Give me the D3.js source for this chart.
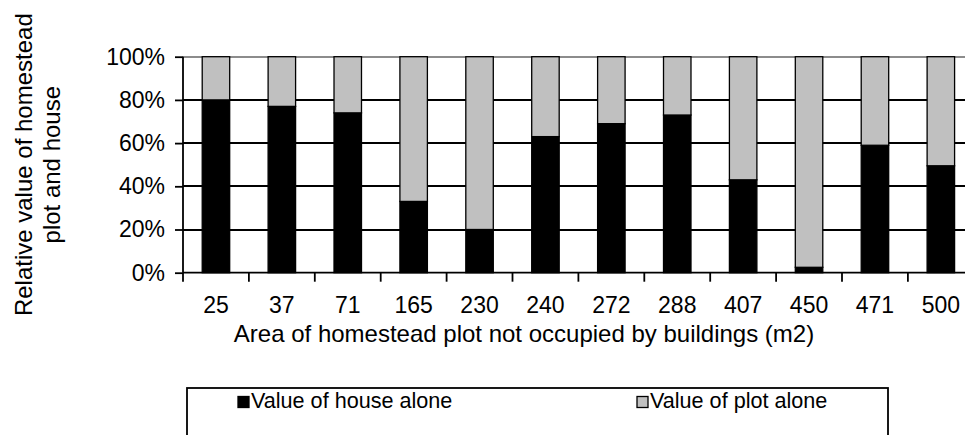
<!DOCTYPE html>
<html>
<head>
<meta charset="utf-8">
<script src="https://cdn.jsdelivr.net/npm/d3@7"></script>
<style>
	body { margin: 0; background: #fff; }
	text { font-family: Arial, "Liberation Sans", sans-serif; fill: #000; }
</style>
</head>
<body>
<div id="chart"></div>
<script>
// data
var areas = ["25", "37", "71", "165", "230", "240", "272", "288", "407", "450", "471", "500"];
var houseShare = [0.80, 0.77, 0.74, 0.33, 0.20, 0.63, 0.69, 0.73, 0.43, 0.025, 0.59, 0.495];
var yTicks = [0, 0.2, 0.4, 0.6, 0.8, 1];
var seriesNames = ["Value of house alone", "Value of plot alone"];
var seriesColors = ["#000000", "#c0c0c0"];

var w = 965,
	h = 435,
	svg = d3
		.select("#chart")
		.append("svg")
		.attr("width", w)
		.attr("height", h);

var plot = { left: 183, top: 56.7, bottom: 272.7, step: 65.9 };

var x = d3.scaleBand()
	.domain(areas)
	.range([plot.left, plot.left + plot.step * areas.length])
	.paddingInner(0.583)
	.paddingOuter(0.2915);

var y = d3.scaleLinear()
	.domain([0, 1])
	.range([plot.bottom, plot.top]);

var gap = x.step() * x.paddingInner();

// gridlines
svg.append("g")
	.selectAll("line")
	.data(yTicks.filter(function(d){ return d > 0; }))
	.enter().append("line")
	.attr("x1", plot.left)
	.attr("x2", x.range()[1])
	.attr("y1", function(d){ return Math.round(y(d)); })
	.attr("y2", function(d){ return Math.round(y(d)); })
	.attr("stroke", function(d){ return d == 1 ? "#8c8c8c" : "#000"; })
	.attr("stroke-width", 2);

// bars: house part then plot part
var bars = svg.append("g").selectAll("g")
	.data(areas)
	.enter().append("g");

bars.append("rect")
	.attr("x", function(d){ return x(d); })
	.attr("width", x.bandwidth())
	.attr("y", function(d,i){ return y(houseShare[i]); })
	.attr("height", function(d,i){ return y(0) - y(houseShare[i]); })
	.attr("fill", seriesColors[0])
	.attr("stroke", "#000")
	.attr("stroke-width", 1.3);

bars.append("rect")
	.attr("x", function(d){ return x(d); })
	.attr("width", x.bandwidth())
	.attr("y", y(1))
	.attr("height", function(d,i){ return y(houseShare[i]) - y(1); })
	.attr("fill", seriesColors[1])
	.attr("stroke", "#000")
	.attr("stroke-width", 1.3);

// y axis
svg.append("g")
	.attr("transform", `translate(${plot.left},0)`)
	.call(d3.axisLeft(y).tickValues(yTicks).tickFormat(d3.format(".0%")).tickSize(8).tickPadding(10))
	.call(function(g){
		g.select(".domain").attr("stroke", "#000").attr("stroke-width", 1.8).attr("d", `M0,${plot.top}V${plot.bottom}`);
		g.selectAll(".tick line").attr("stroke", "#000").attr("stroke-width", 1.8);
		g.selectAll("text").style("font-size", "23px").attr("fill", "#000");
	});

// x axis: labels at category centres, ticks between categories
svg.append("g")
	.attr("transform", `translate(0,${plot.bottom})`)
	.call(d3.axisBottom(x).tickSize(0).tickPadding(24))
	.call(function(g){
		g.select(".domain").attr("stroke", "#000").attr("stroke-width", 1.8).attr("d", `M${plot.left},0H${x.range()[1]}`);
		g.selectAll("text").style("font-size", "23px").attr("fill", "#000");
	});

svg.append("g")
	.selectAll("line")
	.data(areas)
	.enter().append("line")
	.attr("x1", function(d){ return x(d) - gap / 2; })
	.attr("x2", function(d){ return x(d) - gap / 2; })
	.attr("y1", plot.bottom)
	.attr("y2", plot.bottom + 9)
	.attr("stroke", "#000")
	.attr("stroke-width", 1.8);

// axis titles
svg.append("text")
	.attr("x", 524)
	.attr("y", 342)
	.attr("text-anchor", "middle")
	.style("font-size", "24px")
	.text("Area of homestead plot not occupied by buildings (m2)");

var yTitle = svg.append("text")
	.attr("transform", `translate(0,${(plot.top + plot.bottom) / 2}) rotate(-90)`)
	.attr("text-anchor", "middle")
	.style("font-size", "24px");
yTitle.append("tspan").attr("x", 0).attr("y", 32).text("Relative value of homestead");
yTitle.append("tspan").attr("x", 0).attr("y", 60).text("plot and house");

// legend
var legend = svg.append("g");
legend.append("rect")
	.attr("x", 187)
	.attr("y", 388)
	.attr("width", 701)
	.attr("height", 70)
	.attr("fill", "#fff")
	.attr("stroke", "#000")
	.attr("stroke-width", 1.8);

var legendX = [238, 637];
var items = legend.selectAll("g.item")
	.data(seriesNames)
	.enter().append("g")
	.attr("class", "item")
	.attr("transform", function(d,i){ return `translate(${legendX[i]},396.5)`; });

items.append("rect")
	.attr("width", 11)
	.attr("height", 11)
	.attr("fill", function(d,i){ return seriesColors[i]; })
	.attr("stroke", "#000")
	.attr("stroke-width", 1.3);

items.append("text")
	.attr("x", 13)
	.attr("y", 11.8)
	.style("font-size", "21.6px")
	.text(function(d){ return d; });
</script>
</body>
</html>
